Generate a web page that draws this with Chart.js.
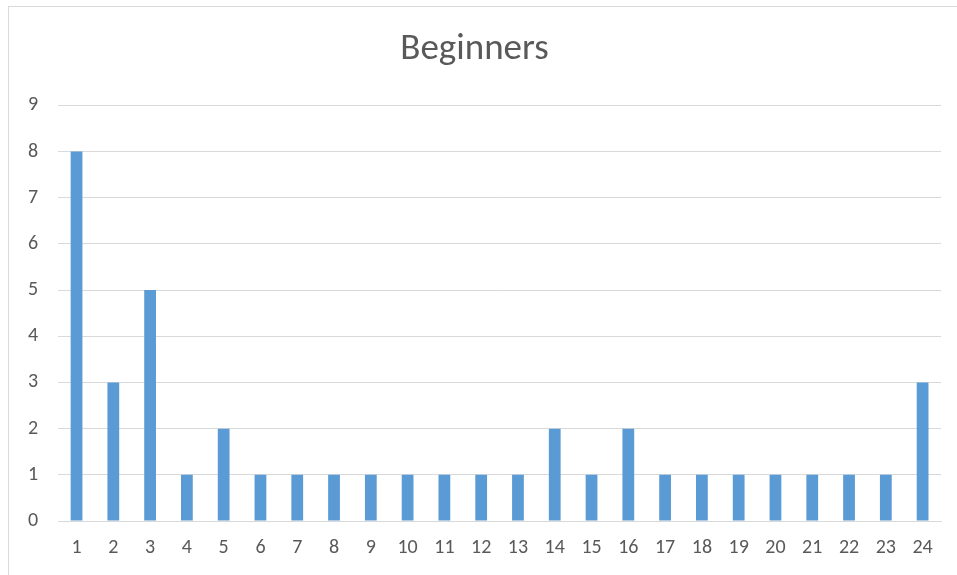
<!DOCTYPE html>
<html>
<head>
<meta charset="utf-8">
<script src="https://cdn.jsdelivr.net/npm/chart.js@4"></script>
<style>
  html, body { margin: 0; padding: 0; background: #fff; overflow: hidden; }
  #frame {
    position: absolute; left: 8px; top: 6px; width: 970px; height: 600px;
    border: 1px solid #d9d9d9; box-sizing: border-box;
  }
  #wrap { position: absolute; left: 0; top: 0; width: 957px; height: 575px; }
</style>
</head>
<body>
<div id="frame"></div>
<div id="wrap"><canvas id="beginnersChart" width="957" height="575"></canvas></div>
<script>
  const categories = [
    "1", "2", "3", "4", "5", "6", "7", "8", "9", "10", "11", "12",
    "13", "14", "15", "16", "17", "18", "19", "20", "21", "22", "23", "24"
  ];
  const beginners = [8, 3, 5, 1, 2, 1, 1, 1, 1, 1, 1, 1, 1, 2, 1, 2, 1, 1, 1, 1, 1, 1, 1, 3];
  const yTicks = [0, 1, 2, 3, 4, 5, 6, 7, 8, 9];

  document.addEventListener("DOMContentLoaded", () => {
    const ctx = document.getElementById("beginnersChart");
    const grey = "#595959";
    const font = "Calibri, Carlito, 'Open Sans', sans-serif";

    new Chart(ctx, {
      type: "bar",
      data: {
        labels: categories,
        datasets: [
          {
            label: "Beginners",
            data: beginners,
            backgroundColor: "#5b9bd5",
            barPercentage: 0.32,
            categoryPercentage: 1
          }
        ]
      },
      options: {
        responsive: false,
        animation: false,
        layout: {
          padding: { left: 8, right: 16, top: 20, bottom: 0 }
        },
        plugins: {
          legend: { display: false },
          tooltip: { enabled: false },
          title: {
            display: true,
            text: "Beginners",
            color: grey,
            font: { family: font, size: 37, weight: "normal" },
            padding: { top: 8, bottom: 33 }
          }
        },
        scales: {
          x: {
            grid: { display: false, drawTicks: false },
            border: { display: true, color: "#d9d9d9", width: 1 },
            ticks: {
              color: grey,
              font: { family: font, size: 20 },
              padding: 15,
              maxRotation: 0
            }
          },
          y: {
            min: 0,
            max: 9,
            afterBuildTicks: (axis) => {
              axis.ticks = yTicks.map(v => ({ value: v }));
            },
            grid: { color: "#d9d9d9", drawTicks: false },
            border: { display: false },
            ticks: {
              color: grey,
              font: { family: font, size: 20 },
              padding: 20
            }
          }
        }
      }
    });
  });
</script>
</body>
</html>
